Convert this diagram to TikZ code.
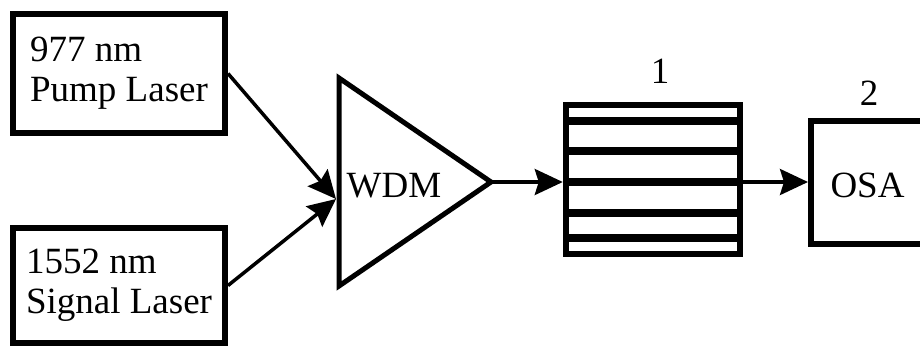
\documentclass[tikz,border=0pt]{standalone}
\usepackage{fontspec}
\setmainfont{Liberation Serif}
\usetikzlibrary{arrows.meta}
\begin{document}
\begin{tikzpicture}[x=1pt,y=-1pt,
  box/.style={draw=black,line width=6pt,rectangle,inner sep=0pt,align=left,
    font=\fontsize{37}{40}\selectfont},
  label/.style={font=\fontsize{37}{40}\selectfont,inner sep=0pt,anchor=base},
  beam/.style={line width=3.5pt,-{Stealth[length=28pt,width=26pt,inset=4pt]}},
  bar/.style={line width=8pt}]
\clip (0,0) rectangle (920,349);
\fill[white] (0,0) rectangle (920,349);

% sources
\node[box,minimum width=212pt,minimum height=119pt] (pump) at (119,73.5)
  {977 nm\\Pump Laser};
\node[box,minimum width=212pt,minimum height=115pt] (signal) at (119,285.5)
  {1552 nm\\Signal Laser};

% WDM coupler
\coordinate (wtop) at (339,78);
\coordinate (wbot) at (339,286);
\coordinate (wapex) at (491,182);
\coordinate (win) at (336,199);
\draw[line width=5pt,line join=miter] (wtop) -- (wapex) -- (wbot) -- cycle;
\node[label] (wdm) at (394,197) {WDM};

% fibre grating (1)
\node[draw=black,line width=6.5pt,minimum width=174pt,minimum height=149pt,
  inner sep=0pt] (grating) at (653,179.5) {};
\foreach \yy [count=\i] in {121,151,181.5,213,238}
  \draw[bar] (569,\yy) coordinate (bl\i) -- (737,\yy) coordinate (br\i);
\node[label] (one) at (660,83) {1};

% analyser (2)
\node[box,minimum width=116pt,minimum height=123pt] (osa) at (869,182.5) {};
\node[label] (osatext) at (867.5,197) {OSA};
\node[label] (two) at (869,105) {2};

% beams
\draw[beam] (pump.east) -- (win);
\draw[beam] (signal.east) -- (win);
\draw[beam] (wapex) -- (grating.west |- wapex);
\draw[beam] (grating.east |- wapex) -- (osa.west |- wapex);
\end{tikzpicture}
\end{document}
